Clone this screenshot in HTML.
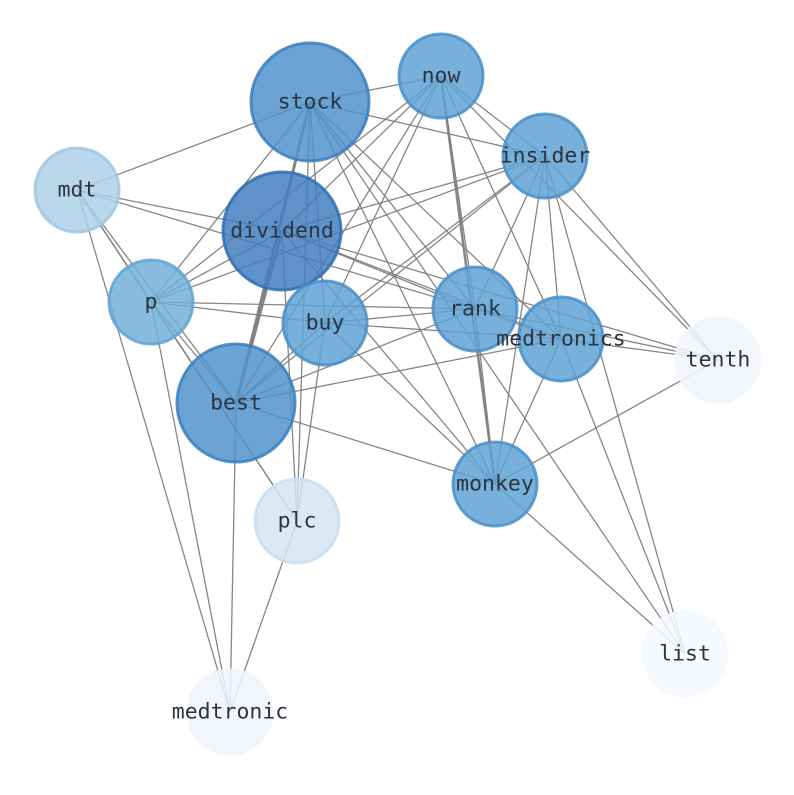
<!DOCTYPE html>
<html><head><meta charset="utf-8"><style>html,body{margin:0;padding:0;background:#fff}</style></head>
<body>
<svg width="794" height="790" xmlns="http://www.w3.org/2000/svg">
<g stroke="#808080" stroke-width="1.3" stroke-opacity="0.95" fill="none">
<line x1="310" y1="102" x2="441" y2="76"/>
<line x1="310" y1="102" x2="545" y2="156"/>
<line x1="310" y1="102" x2="77" y2="190"/>
<line x1="310" y1="102" x2="151" y2="302"/>
<line x1="310" y1="102" x2="236" y2="403" stroke-width="3"/>
<line x1="310" y1="102" x2="325" y2="323"/>
<line x1="310" y1="102" x2="475" y2="309"/>
<line x1="310" y1="102" x2="561" y2="339"/>
<line x1="310" y1="102" x2="495" y2="484"/>
<line x1="310" y1="102" x2="685" y2="654"/>
<line x1="310" y1="102" x2="297" y2="521"/>
<line x1="441" y1="76" x2="282" y2="231"/>
<line x1="441" y1="76" x2="151" y2="302"/>
<line x1="441" y1="76" x2="325" y2="323"/>
<line x1="441" y1="76" x2="236" y2="403"/>
<line x1="441" y1="76" x2="475" y2="309"/>
<line x1="441" y1="76" x2="495" y2="484" stroke-width="2.5"/>
<line x1="441" y1="76" x2="545" y2="156"/>
<line x1="441" y1="76" x2="561" y2="339"/>
<line x1="441" y1="76" x2="718" y2="360"/>
<line x1="545" y1="156" x2="282" y2="231"/>
<line x1="545" y1="156" x2="151" y2="302"/>
<line x1="545" y1="156" x2="325" y2="323"/>
<line x1="545" y1="156" x2="236" y2="403"/>
<line x1="545" y1="156" x2="475" y2="309"/>
<line x1="545" y1="156" x2="495" y2="484"/>
<line x1="545" y1="156" x2="561" y2="339"/>
<line x1="545" y1="156" x2="718" y2="360"/>
<line x1="545" y1="156" x2="685" y2="654"/>
<line x1="77" y1="190" x2="282" y2="231"/>
<line x1="77" y1="190" x2="475" y2="309"/>
<line x1="77" y1="190" x2="151" y2="302"/>
<line x1="77" y1="190" x2="236" y2="403"/>
<line x1="77" y1="190" x2="297" y2="521"/>
<line x1="77" y1="190" x2="230" y2="712"/>
<line x1="282" y1="231" x2="236" y2="403" stroke-width="3"/>
<line x1="282" y1="231" x2="718" y2="360"/>
<line x1="282" y1="231" x2="561" y2="339"/>
<line x1="282" y1="231" x2="475" y2="309"/>
<line x1="282" y1="231" x2="495" y2="484"/>
<line x1="282" y1="231" x2="297" y2="521"/>
<line x1="282" y1="231" x2="151" y2="302"/>
<line x1="151" y1="302" x2="236" y2="403"/>
<line x1="151" y1="302" x2="325" y2="323"/>
<line x1="151" y1="302" x2="475" y2="309"/>
<line x1="151" y1="302" x2="297" y2="521"/>
<line x1="151" y1="302" x2="230" y2="712"/>
<line x1="325" y1="323" x2="475" y2="309"/>
<line x1="325" y1="323" x2="561" y2="339"/>
<line x1="325" y1="323" x2="495" y2="484"/>
<line x1="325" y1="323" x2="236" y2="403"/>
<line x1="325" y1="323" x2="297" y2="521"/>
<line x1="236" y1="403" x2="561" y2="339"/>
<line x1="236" y1="403" x2="495" y2="484"/>
<line x1="236" y1="403" x2="475" y2="309"/>
<line x1="236" y1="403" x2="230" y2="712"/>
<line x1="475" y1="309" x2="718" y2="360"/>
<line x1="475" y1="309" x2="495" y2="484"/>
<line x1="475" y1="309" x2="561" y2="339"/>
<line x1="561" y1="339" x2="495" y2="484"/>
<line x1="561" y1="339" x2="718" y2="360"/>
<line x1="561" y1="339" x2="685" y2="654"/>
<line x1="495" y1="484" x2="718" y2="360"/>
<line x1="495" y1="484" x2="685" y2="654"/>
<line x1="297" y1="521" x2="230" y2="712"/>
</g>
<g stroke-width="3" fill-opacity="0.85" stroke-opacity="0.85">
<circle cx="310" cy="102" r="59" fill="#5093cc" stroke="#3a7fbf"/>
<circle cx="441" cy="76" r="42" fill="#5fa2d4" stroke="#4a8fc8"/>
<circle cx="545" cy="156" r="42" fill="#5fa2d4" stroke="#4a8fc8"/>
<circle cx="77" cy="190" r="42" fill="#afd0e9" stroke="#a0c6e4"/>
<circle cx="282" cy="231" r="59" fill="#437fbf" stroke="#2f6fb0"/>
<circle cx="151" cy="302" r="42" fill="#72b0db" stroke="#62a3d4"/>
<circle cx="325" cy="323" r="42" fill="#5fa2d4" stroke="#4a8fc8"/>
<circle cx="475" cy="309" r="42" fill="#5fa2d4" stroke="#4a8fc8"/>
<circle cx="561" cy="339" r="42" fill="#5fa2d4" stroke="#4a8fc8"/>
<circle cx="718" cy="360" r="42" fill="#f1f6fc" stroke="#f1f6fc"/>
<circle cx="236" cy="403" r="59" fill="#5093cc" stroke="#3a7fbf"/>
<circle cx="495" cy="484" r="42" fill="#5fa2d4" stroke="#4a8fc8"/>
<circle cx="297" cy="521" r="42" fill="#d5e5f4" stroke="#c9def1"/>
<circle cx="685" cy="654" r="42" fill="#f4f8fd" stroke="#f4f8fd"/>
<circle cx="230" cy="712" r="42" fill="#f0f5fc" stroke="#f0f5fc"/>
</g>
<g font-family="DejaVu Sans Mono, Liberation Mono, monospace" font-size="21.5" fill="#2b3440" text-anchor="middle" dominant-baseline="central">
<text x="310" y="102">stock</text>
<text x="441" y="76">now</text>
<text x="545" y="156">insider</text>
<text x="77" y="190">mdt</text>
<text x="282" y="231">dividend</text>
<text x="151" y="302">p</text>
<text x="325" y="323">buy</text>
<text x="475" y="309">rank</text>
<text x="561" y="339">medtronics</text>
<text x="718" y="360">tenth</text>
<text x="236" y="403">best</text>
<text x="495" y="484">monkey</text>
<text x="297" y="521">plc</text>
<text x="685" y="654">list</text>
<text x="230" y="712">medtronic</text>
</g>
</svg>
</body></html>
